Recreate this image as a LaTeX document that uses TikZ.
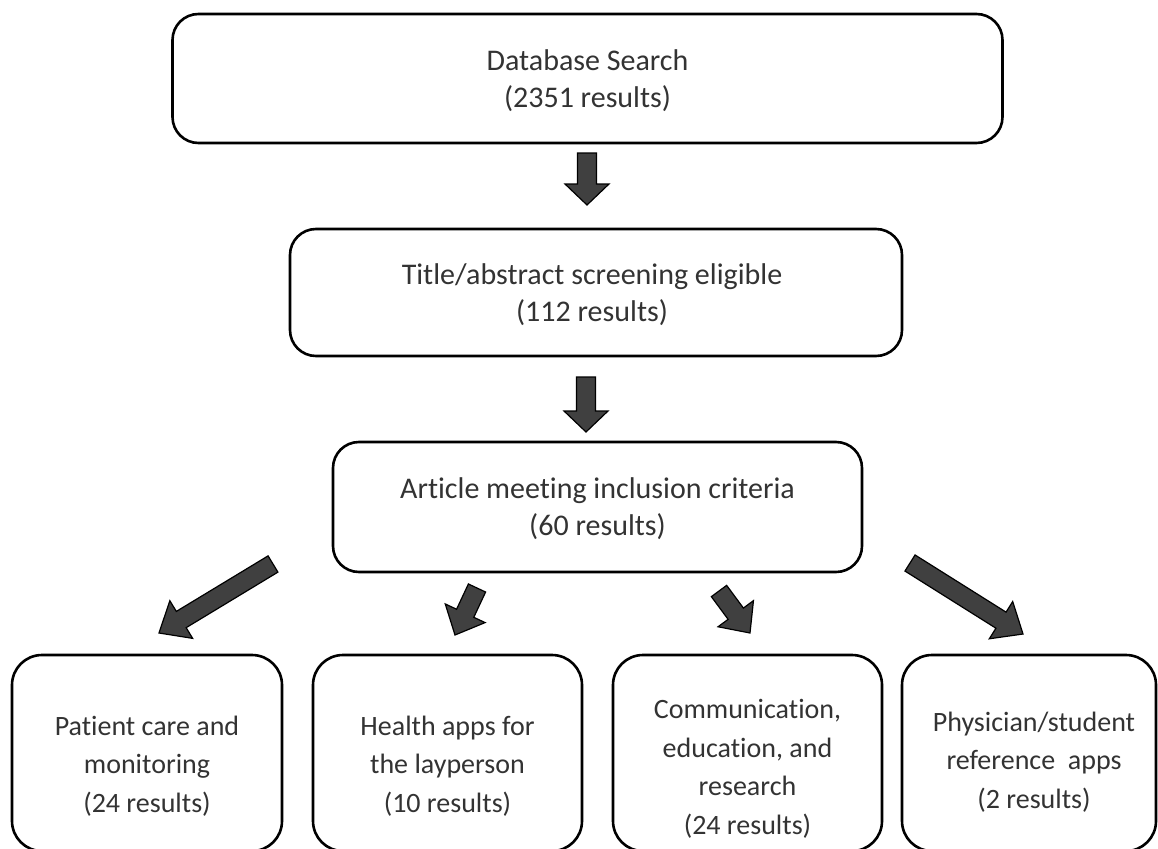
\documentclass[tikz,border=0pt]{standalone}
\usepackage{fontspec}
\setmainfont{Carlito}[Ligatures=NoCommon]
\usetikzlibrary{calc}
\definecolor{txt}{HTML}{333333}
\definecolor{arrfill}{HTML}{404040}
\tikzset{
  box/.style={draw=black, line width=2.6pt, rounded corners=26pt, inner sep=0pt},
  lbl/.style={text=txt, align=center, font=\fontsize{30}{37}\selectfont, inner sep=0pt},
  blbl/.style={text=txt, align=center, font=\fontsize{28}{38.5}\selectfont, inner sep=0pt},
  barrow/.style={draw=black, fill=arrfill, line width=1.2pt, line join=miter},
}
% #1 name, #2 tail, #3 tip, #4 head length
\newcommand\blockarrow[4]{%
  \coordinate (#1-c) at ($(#3)!#4!(#2)$);
  \draw[barrow] ($(#2)!9.5pt!90:(#3)$) -- ($(#1-c)!9.5pt!-90:(#2)$) -- ($(#1-c)!22pt!-90:(#2)$) -- (#3)
    -- ($(#1-c)!22pt!90:(#2)$) -- ($(#1-c)!9.5pt!90:(#2)$) -- ($(#2)!9.5pt!-90:(#3)$) -- cycle;
}
\begin{document}
\begin{tikzpicture}[x=1pt,y=-1pt]
\useasboundingbox (0,0) rectangle (1158,848);
\clip (0,0) rectangle (1158,848);
\fill[white] (0,0) rectangle (1158,848);

% top boxes
\node[box, minimum width=830pt, minimum height=129pt] (db) at (587.5,78.5) {};
\node[lbl] (dbt) at (587.5,81) {Database Search\\(2351 results)};

\node[box, minimum width=612pt, minimum height=127pt] (ta) at (596,292.5) {};
\node[lbl] (tat) at (592,295) {Title/abstract screening eligible\\(112 results)};

\node[box, minimum width=529pt, minimum height=130pt] (am) at (597.5,507) {};
\node[lbl] (amt) at (597.5,509) {Article meeting inclusion criteria\\(60 results)};

% bottom boxes
\node[box, rounded corners=30pt, minimum width=270pt, minimum height=196pt] (pa) at (147,753) {};
\node[blbl] (pat) at (147,766) {Patient care and\\monitoring\\(24 results)};

\node[box, rounded corners=30pt, minimum width=269pt, minimum height=196pt] (ha) at (447.5,753) {};
\node[blbl] (hat) at (447.5,766) {Health apps for\\the layperson\\(10 results)};

\node[box, rounded corners=30pt, minimum width=269pt, minimum height=196pt] (co) at (747.5,753) {};
\node[blbl] (cot) at (747.5,769) {Communication,\\education, and\\research\\(24 results)};

\node[box, rounded corners=30pt, minimum width=254pt, minimum height=196pt] (ph) at (1029,753) {};
\node[blbl] (pht) at (1034,762) {Physician/student\\reference\ \ apps\\(2 results)};

% block arrows
\coordinate (a1s) at (587,153);  \coordinate (a1e) at (587,205);
\coordinate (a2s) at (586,377);  \coordinate (a2e) at (586,432);
\coordinate (aAs) at (273,564);  \coordinate (aAe) at (159,633);
\coordinate (aBs) at (477,588);  \coordinate (aBe) at (455,635);
\coordinate (aCs) at (719,591);  \coordinate (aCe) at (750,633);
\coordinate (aDs) at (910,563);  \coordinate (aDe) at (1023,634);

\blockarrow{a1}{a1s}{a1e}{21pt}
\blockarrow{a2}{a2s}{a2e}{21pt}
\blockarrow{aA}{aAs}{aAe}{26pt}
\blockarrow{aB}{aBs}{aBe}{24pt}
\blockarrow{aC}{aCs}{aCe}{24pt}
\blockarrow{aD}{aDs}{aDe}{26pt}
\end{tikzpicture}
\end{document}
